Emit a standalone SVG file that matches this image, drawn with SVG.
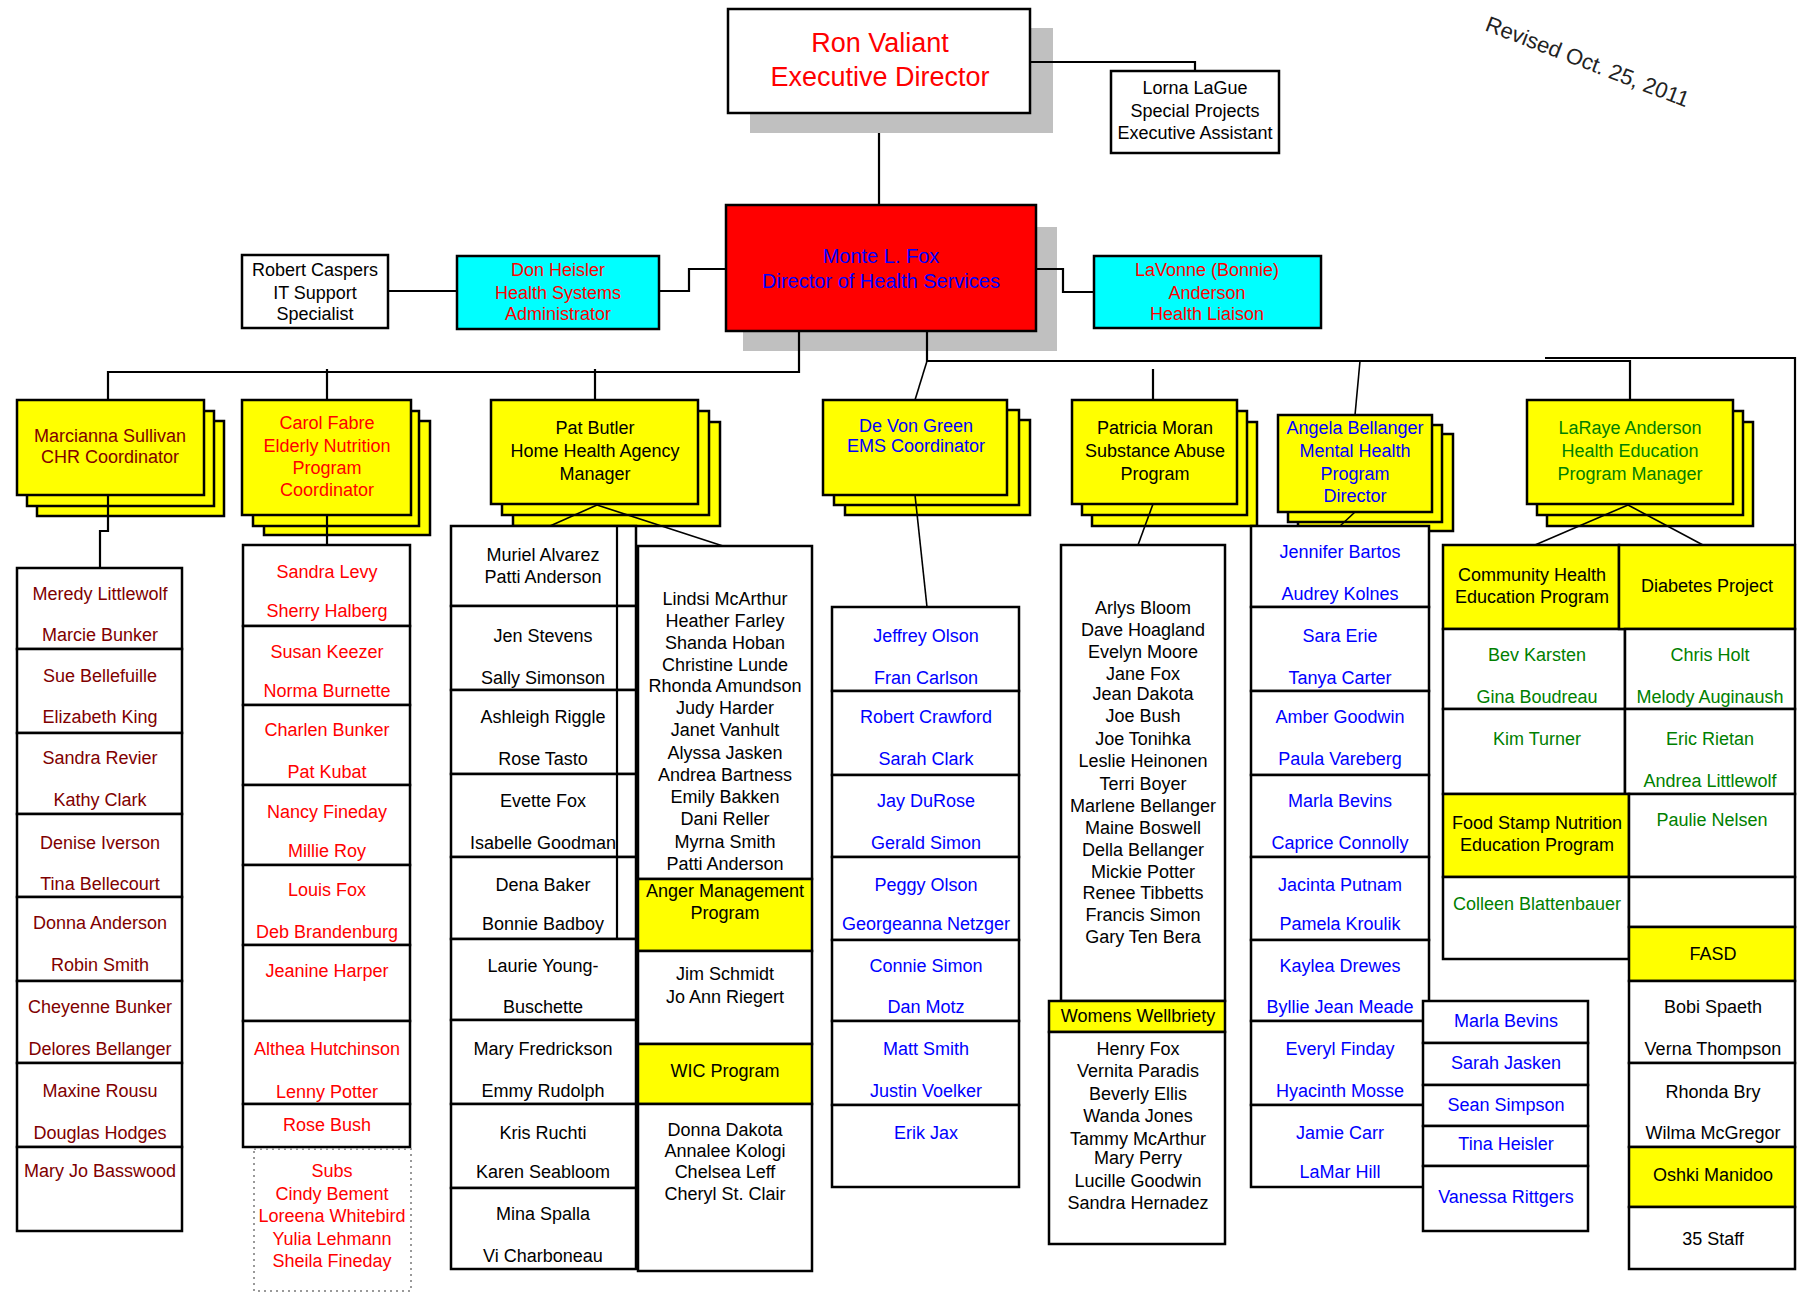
<svg xmlns="http://www.w3.org/2000/svg" width="1800" height="1296" viewBox="0 0 1800 1296">
<style>
.bx{fill:#fff;stroke:#000;stroke-width:2.5}
.yl{fill:#ff0;stroke:#000;stroke-width:2.5}
.cy{fill:#0ff;stroke:#000;stroke-width:2.5}
.rd{fill:#f00;stroke:#000;stroke-width:2.5}
.sh{fill:#c0c0c0}
.ln{fill:none;stroke:#000;stroke-width:2.2}
.sl{fill:none;stroke:#000;stroke-width:1.6}
text{font-family:"Liberation Sans",Arial,sans-serif;font-size:18px;text-anchor:middle}
.k{fill:#000}.r{fill:#f00}.b{fill:#00f}.g{fill:#008000}.m{fill:#800000}
</style>
<rect width="1800" height="1296" fill="#fff"/>

<text x="1484" y="30" transform="rotate(21 1484 30)" style="font-size:22px;text-anchor:start;fill:#222">Revised Oct. 25, 2011</text>

<g id="ron">
<rect class="sh" x="750" y="28" width="303" height="105"/>
<rect class="bx" x="728" y="9" width="302" height="104"/>
<text x="880" y="52" class="r" style="font-size:27px">Ron Valiant</text>
<text x="880" y="86" class="r" style="font-size:27px">Executive Director</text>
</g>

<g id="lorna">
<rect class="bx" x="1111" y="71" width="168" height="82"/>
<text x="1195" y="94" class="k">Lorna LaGue</text>
<text x="1195" y="117" class="k">Special Projects</text>
<text x="1195" y="139" class="k">Executive Assistant</text>
</g>

<g id="monte">
<rect class="sh" x="743" y="227" width="314" height="124"/>
<rect class="rd" x="726" y="205" width="310" height="126"/>
<text x="881" y="263" class="b" style="font-size:20px">Monte L. Fox</text>
<text x="881" y="288" class="b" style="font-size:20px">Director of Health Services</text>
</g>

<g id="robert">
<rect class="bx" x="242" y="255" width="146" height="73"/>
<text x="315" y="276" class="k">Robert Caspers</text>
<text x="315" y="299" class="k">IT Support</text>
<text x="315" y="320" class="k">Specialist</text>
</g>

<g id="don">
<rect class="cy" x="457" y="256" width="202" height="73"/>
<text x="558" y="276" class="r">Don Heisler</text>
<text x="558" y="299" class="r">Health Systems</text>
<text x="558" y="320" class="r">Administrator</text>
</g>

<g id="lavonne">
<rect class="cy" x="1094" y="256" width="227" height="72"/>
<text x="1207" y="276" class="r">LaVonne (Bonnie)</text>
<text x="1207" y="299" class="r">Anderson</text>
<text x="1207" y="320" class="r">Health Liaison</text>
</g>

<!-- Marcianna -->
<g id="marcianna">
<rect class="yl" x="37" y="421" width="187" height="95"/>
<rect class="yl" x="27" y="411" width="187" height="95"/>
<rect class="yl" x="17" y="400" width="187" height="95"/>
<text x="110" y="442" class="m">Marcianna Sullivan</text>
<text x="110" y="463" class="m">CHR Coordinator</text>
</g>
<g id="marcianna-staff">
<rect class="bx" x="17" y="568" width="165" height="81"/>
<rect class="bx" x="17" y="649" width="165" height="84"/>
<rect class="bx" x="17" y="733" width="165" height="81"/>
<rect class="bx" x="17" y="814" width="165" height="83"/>
<rect class="bx" x="17" y="897" width="165" height="84"/>
<rect class="bx" x="17" y="981" width="165" height="82"/>
<rect class="bx" x="17" y="1063" width="165" height="84"/>
<rect class="bx" x="17" y="1147" width="165" height="84"/>
<text x="100" y="600" class="m">Meredy Littlewolf</text>
<text x="100" y="641" class="m">Marcie Bunker</text>
<text x="100" y="682" class="m">Sue Bellefuille</text>
<text x="100" y="723" class="m">Elizabeth King</text>
<text x="100" y="764" class="m">Sandra Revier</text>
<text x="100" y="806" class="m">Kathy Clark</text>
<text x="100" y="849" class="m">Denise  Iverson</text>
<text x="100" y="890" class="m">Tina Bellecourt</text>
<text x="100" y="929" class="m">Donna Anderson</text>
<text x="100" y="971" class="m">Robin Smith</text>
<text x="100" y="1013" class="m">Cheyenne Bunker</text>
<text x="100" y="1055" class="m">Delores Bellanger</text>
<text x="100" y="1097" class="m">Maxine Rousu</text>
<text x="100" y="1139" class="m">Douglas Hodges</text>
<text x="100" y="1177" class="m">Mary Jo Basswood</text>
</g>

<!-- Carol -->
<g id="carol">
<rect class="yl" x="264" y="421" width="166" height="114"/>
<rect class="yl" x="253" y="411" width="166" height="115"/>
<rect class="yl" x="242" y="400" width="169" height="115"/>
<text x="327" y="429" class="r">Carol Fabre</text>
<text x="327" y="452" class="r">Elderly Nutrition</text>
<text x="327" y="474" class="r">Program</text>
<text x="327" y="496" class="r">Coordinator</text>
</g>
<g id="carol-staff">
<rect class="bx" x="243" y="545" width="167" height="81"/>
<rect class="bx" x="243" y="626" width="167" height="79"/>
<rect class="bx" x="243" y="705" width="167" height="80"/>
<rect class="bx" x="243" y="785" width="167" height="80"/>
<rect class="bx" x="243" y="865" width="167" height="80"/>
<rect class="bx" x="243" y="945" width="167" height="76"/>
<rect class="bx" x="243" y="1021" width="167" height="83"/>
<rect class="bx" x="243" y="1104" width="167" height="43"/>
<text x="327" y="578" class="r">Sandra Levy</text>
<text x="327" y="617" class="r">Sherry Halberg</text>
<text x="327" y="658" class="r">Susan Keezer</text>
<text x="327" y="697" class="r">Norma Burnette</text>
<text x="327" y="736" class="r">Charlen Bunker</text>
<text x="327" y="778" class="r">Pat Kubat</text>
<text x="327" y="818" class="r">Nancy Fineday</text>
<text x="327" y="857" class="r">Millie Roy</text>
<text x="327" y="896" class="r">Louis Fox</text>
<text x="327" y="938" class="r">Deb Brandenburg</text>
<text x="327" y="977" class="r">Jeanine Harper</text>
<text x="327" y="1055" class="r">Althea Hutchinson</text>
<text x="327" y="1098" class="r">Lenny Potter</text>
<text x="327" y="1131" class="r">Rose Bush</text>
</g>
<g id="subs">
<rect x="254" y="1149" width="157" height="142" fill="none" stroke="#999" stroke-width="2" stroke-dasharray="2,4"/>
<text x="332" y="1177" class="r">Subs</text>
<text x="332" y="1200" class="r">Cindy Bement</text>
<text x="332" y="1222" class="r">Loreena Whitebird</text>
<text x="332" y="1245" class="r">Yulia Lehmann</text>
<text x="332" y="1267" class="r">Sheila Fineday</text>
</g>

<!-- Pat Butler -->
<g id="patbutler">
<rect class="yl" x="513" y="422" width="207" height="104"/>
<rect class="yl" x="502" y="411" width="207" height="104"/>
<rect class="yl" x="491" y="400" width="207" height="104"/>
<text x="595" y="434" class="k">Pat Butler</text>
<text x="595" y="457" class="k">Home Health Agency</text>
<text x="595" y="480" class="k">Manager</text>
</g>
<g id="patbutler-staff-left">
<rect class="bx" x="451" y="526" width="185" height="80"/>
<rect class="bx" x="451" y="606" width="185" height="84"/>
<rect class="bx" x="451" y="690" width="185" height="84"/>
<rect class="bx" x="451" y="774" width="185" height="83"/>
<rect class="bx" x="451" y="857" width="185" height="82"/>
<rect class="bx" x="451" y="939" width="185" height="81"/>
<rect class="bx" x="451" y="1020" width="185" height="84"/>
<rect class="bx" x="451" y="1104" width="185" height="84"/>
<rect class="bx" x="451" y="1188" width="185" height="81"/>
<line class="ln" x1="617" y1="526" x2="617" y2="939"/>
<text x="543" y="561" class="k">Muriel Alvarez</text>
<text x="543" y="583" class="k">Patti Anderson</text>
<text x="543" y="642" class="k">Jen Stevens</text>
<text x="543" y="684" class="k">Sally Simonson</text>
<text x="543" y="723" class="k">Ashleigh Riggle</text>
<text x="543" y="765" class="k">Rose Tasto</text>
<text x="543" y="807" class="k">Evette Fox</text>
<text x="543" y="849" class="k">Isabelle Goodman</text>
<text x="543" y="891" class="k">Dena Baker</text>
<text x="543" y="930" class="k">Bonnie Badboy</text>
<text x="543" y="972" class="k">Laurie Young-</text>
<text x="543" y="1013" class="k">Buschette</text>
<text x="543" y="1055" class="k">Mary Fredrickson</text>
<text x="543" y="1097" class="k">Emmy Rudolph</text>
<text x="543" y="1139" class="k">Kris Ruchti</text>
<text x="543" y="1178" class="k">Karen Seabloom</text>
<text x="543" y="1220" class="k">Mina Spalla</text>
<text x="543" y="1262" class="k">Vi Charboneau</text>
</g>
<g id="patbutler-staff-right">
<rect class="bx" x="638" y="546" width="174" height="333"/>
<rect class="yl" x="638" y="879" width="174" height="72"/>
<rect class="bx" x="638" y="951" width="174" height="93"/>
<rect class="yl" x="638" y="1044" width="174" height="60"/>
<rect class="bx" x="638" y="1104" width="174" height="167"/>
<text x="725" y="605" class="k">Lindsi McArthur</text>
<text x="725" y="627" class="k">Heather Farley</text>
<text x="725" y="649" class="k">Shanda Hoban</text>
<text x="725" y="671" class="k">Christine Lunde</text>
<text x="725" y="692" class="k">Rhonda Amundson</text>
<text x="725" y="714" class="k">Judy Harder</text>
<text x="725" y="736" class="k">Janet Vanhult</text>
<text x="725" y="759" class="k">Alyssa Jasken</text>
<text x="725" y="781" class="k">Andrea Bartness</text>
<text x="725" y="803" class="k">Emily Bakken</text>
<text x="725" y="825" class="k">Dani Reller</text>
<text x="725" y="848" class="k">Myrna Smith</text>
<text x="725" y="870" class="k">Patti Anderson</text>
<text x="725" y="897" class="k">Anger Management</text>
<text x="725" y="919" class="k">Program</text>
<text x="725" y="980" class="k">Jim Schmidt</text>
<text x="725" y="1003" class="k">Jo Ann Riegert</text>
<text x="725" y="1077" class="k">WIC Program</text>
<text x="725" y="1136" class="k">Donna Dakota</text>
<text x="725" y="1157" class="k">Annalee Kologi</text>
<text x="725" y="1178" class="k">Chelsea Leff</text>
<text x="725" y="1200" class="k">Cheryl St. Clair</text>
</g>

<!-- De Von Green -->
<g id="devon">
<rect class="yl" x="845" y="420" width="185" height="95"/>
<rect class="yl" x="834" y="410" width="185" height="95"/>
<rect class="yl" x="823" y="400" width="184" height="95"/>
<text x="916" y="432" class="b">De Von Green</text>
<text x="916" y="452" class="b">EMS Coordinator</text>
</g>
<g id="devon-staff">
<rect class="bx" x="832" y="607" width="187" height="84"/>
<rect class="bx" x="832" y="691" width="187" height="84"/>
<rect class="bx" x="832" y="775" width="187" height="82"/>
<rect class="bx" x="832" y="857" width="187" height="83"/>
<rect class="bx" x="832" y="940" width="187" height="81"/>
<rect class="bx" x="832" y="1021" width="187" height="84"/>
<rect class="bx" x="832" y="1105" width="187" height="82"/>
<text x="926" y="642" class="b">Jeffrey Olson</text>
<text x="926" y="684" class="b">Fran Carlson</text>
<text x="926" y="723" class="b">Robert Crawford</text>
<text x="926" y="765" class="b">Sarah Clark</text>
<text x="926" y="807" class="b">Jay DuRose</text>
<text x="926" y="849" class="b">Gerald Simon</text>
<text x="926" y="891" class="b">Peggy Olson</text>
<text x="926" y="930" class="b">Georgeanna Netzger</text>
<text x="926" y="972" class="b">Connie Simon</text>
<text x="926" y="1013" class="b">Dan Motz</text>
<text x="926" y="1055" class="b">Matt Smith</text>
<text x="926" y="1097" class="b">Justin Voelker</text>
<text x="926" y="1139" class="b">Erik Jax</text>
</g>

<!-- Patricia Moran -->
<g id="patricia">
<rect class="yl" x="1092" y="422" width="165" height="104"/>
<rect class="yl" x="1082" y="411" width="165" height="104"/>
<rect class="yl" x="1072" y="400" width="165" height="104"/>
<text x="1155" y="434" class="k">Patricia Moran</text>
<text x="1155" y="457" class="k">Substance Abuse</text>
<text x="1155" y="480" class="k">Program</text>
</g>
<g id="patricia-staff">
<rect class="bx" x="1061" y="545" width="164" height="456"/>
<text x="1143" y="614" class="k">Arlys Bloom</text>
<text x="1143" y="636" class="k">Dave Hoagland</text>
<text x="1143" y="658" class="k">Evelyn Moore</text>
<text x="1143" y="680" class="k">Jane Fox</text>
<text x="1143" y="700" class="k">Jean Dakota</text>
<text x="1143" y="722" class="k">Joe Bush</text>
<text x="1143" y="745" class="k">Joe Tonihka</text>
<text x="1143" y="767" class="k">Leslie Heinonen</text>
<text x="1143" y="790" class="k">Terri Boyer</text>
<text x="1143" y="812" class="k">Marlene Bellanger</text>
<text x="1143" y="834" class="k">Maine Boswell</text>
<text x="1143" y="856" class="k">Della Bellanger</text>
<text x="1143" y="878" class="k">Mickie Potter</text>
<text x="1143" y="899" class="k">Renee Tibbetts</text>
<text x="1143" y="921" class="k">Francis Simon</text>
<text x="1143" y="943" class="k">Gary Ten Bera</text>
</g>
<g id="womens-wellbriety">
<rect class="yl" x="1049" y="1001" width="176" height="31"/>
<rect class="bx" x="1049" y="1032" width="176" height="212"/>
<text x="1138" y="1022" class="k">Womens Wellbriety</text>
<text x="1138" y="1055" class="k">Henry Fox</text>
<text x="1138" y="1077" class="k">Vernita Paradis</text>
<text x="1138" y="1100" class="k">Beverly Ellis</text>
<text x="1138" y="1122" class="k">Wanda Jones</text>
<text x="1138" y="1145" class="k">Tammy McArthur</text>
<text x="1138" y="1164" class="k">Mary Perry</text>
<text x="1138" y="1187" class="k">Lucille Goodwin</text>
<text x="1138" y="1209" class="k">Sandra Hernadez</text>
</g>

<!-- Angela -->
<g id="angela">
<rect class="yl" x="1298" y="434" width="155" height="97"/>
<rect class="yl" x="1288" y="425" width="154" height="97"/>
<rect class="yl" x="1278" y="415" width="154" height="97"/>
<text x="1355" y="434" class="b">Angela Bellanger</text>
<text x="1355" y="457" class="b">Mental Health</text>
<text x="1355" y="480" class="b">Program</text>
<text x="1355" y="502" class="b">Director</text>
</g>
<g id="angela-staff">
<rect class="bx" x="1251" y="526" width="178" height="81"/>
<rect class="bx" x="1251" y="607" width="178" height="84"/>
<rect class="bx" x="1251" y="691" width="178" height="84"/>
<rect class="bx" x="1251" y="775" width="178" height="82"/>
<rect class="bx" x="1251" y="857" width="178" height="83"/>
<rect class="bx" x="1251" y="940" width="178" height="81"/>
<rect class="bx" x="1251" y="1021" width="178" height="84"/>
<rect class="bx" x="1251" y="1105" width="178" height="82"/>
<text x="1340" y="558" class="b">Jennifer Bartos</text>
<text x="1340" y="600" class="b">Audrey Kolnes</text>
<text x="1340" y="642" class="b">Sara Erie</text>
<text x="1340" y="684" class="b">Tanya Carter</text>
<text x="1340" y="723" class="b">Amber Goodwin</text>
<text x="1340" y="765" class="b">Paula Vareberg</text>
<text x="1340" y="807" class="b">Marla Bevins</text>
<text x="1340" y="849" class="b">Caprice Connolly</text>
<text x="1340" y="891" class="b">Jacinta Putnam</text>
<text x="1340" y="930" class="b">Pamela Kroulik</text>
<text x="1340" y="972" class="b">Kaylea Drewes</text>
<text x="1340" y="1013" class="b">Byllie Jean Meade</text>
<text x="1340" y="1055" class="b">Everyl Finday</text>
<text x="1340" y="1097" class="b">Hyacinth Mosse</text>
<text x="1340" y="1139" class="b">Jamie Carr</text>
<text x="1340" y="1178" class="b">LaMar Hill</text>
</g>
<g id="angela-sub">
<rect class="bx" x="1423" y="1001" width="165" height="42"/>
<rect class="bx" x="1423" y="1043" width="165" height="42"/>
<rect class="bx" x="1423" y="1085" width="165" height="41"/>
<rect class="bx" x="1423" y="1126" width="165" height="40"/>
<rect class="bx" x="1423" y="1166" width="165" height="65"/>
<text x="1506" y="1027" class="b">Marla Bevins</text>
<text x="1506" y="1069" class="b">Sarah Jasken</text>
<text x="1506" y="1111" class="b">Sean Simpson</text>
<text x="1506" y="1150" class="b">Tina Heisler</text>
<text x="1506" y="1203" class="b">Vanessa Rittgers</text>
</g>

<!-- LaRaye -->
<g id="laraye">
<rect class="yl" x="1547" y="422" width="206" height="104"/>
<rect class="yl" x="1537" y="411" width="206" height="104"/>
<rect class="yl" x="1527" y="400" width="206" height="104"/>
<text x="1630" y="434" class="g">LaRaye Anderson</text>
<text x="1630" y="457" class="g">Health Education</text>
<text x="1630" y="480" class="g">Program Manager</text>
</g>
<g id="community-health">
<rect class="yl" x="1443" y="545" width="176" height="84"/>
<text x="1532" y="581" class="k">Community Health</text>
<text x="1532" y="603" class="k">Education Program</text>
<rect class="bx" x="1443" y="629" width="182" height="80"/>
<rect class="bx" x="1443" y="709" width="182" height="85"/>
<text x="1537" y="661" class="g">Bev Karsten</text>
<text x="1537" y="703" class="g">Gina Boudreau</text>
<text x="1537" y="745" class="g">Kim Turner</text>
</g>
<g id="diabetes">
<rect class="yl" x="1619" y="545" width="176" height="84"/>
<text x="1707" y="592" class="k">Diabetes Project</text>
<rect class="bx" x="1625" y="629" width="170" height="80"/>
<rect class="bx" x="1625" y="709" width="170" height="85"/>
<text x="1710" y="661" class="g">Chris Holt</text>
<text x="1710" y="703" class="g">Melody Auginaush</text>
<text x="1710" y="745" class="g">Eric Rietan</text>
<text x="1710" y="787" class="g">Andrea Littlewolf</text>
</g>
<g id="food-stamp">
<rect class="yl" x="1443" y="794" width="186" height="83"/>
<text x="1537" y="829" class="k">Food Stamp Nutrition</text>
<text x="1537" y="851" class="k">Education Program</text>
<rect class="bx" x="1443" y="877" width="186" height="82"/>
<text x="1537" y="910" class="g">Colleen Blattenbauer</text>
</g>
<g id="paulie">
<rect class="bx" x="1629" y="794" width="166" height="83"/>
<text x="1712" y="826" class="g">Paulie Nelsen</text>
<rect class="bx" x="1629" y="877" width="166" height="50"/>
</g>
<g id="fasd">
<rect class="yl" x="1629" y="927" width="166" height="54"/>
<text x="1713" y="960" class="k">FASD</text>
<rect class="bx" x="1629" y="981" width="166" height="82"/>
<rect class="bx" x="1629" y="1063" width="166" height="84"/>
<text x="1713" y="1013" class="k">Bobi Spaeth</text>
<text x="1713" y="1055" class="k">Verna Thompson</text>
<text x="1713" y="1098" class="k">Rhonda Bry</text>
<text x="1713" y="1139" class="k">Wilma McGregor</text>
</g>
<g id="oshki">
<rect class="yl" x="1629" y="1147" width="166" height="60"/>
<text x="1713" y="1181" class="k">Oshki Manidoo</text>
<rect class="bx" x="1629" y="1207" width="166" height="62"/>
<text x="1713" y="1245" class="k">35 Staff</text>
</g>

<g id="connectors">
<path class="ln" d="M879 133 V205"/>
<path class="ln" d="M1030 62 H1195 V71"/>
<path class="ln" d="M388 291 H457"/>
<path class="ln" d="M659 291 H689 V269 H726"/>
<path class="ln" d="M1036 269 H1063 V292 H1094"/>
<path class="ln" d="M799 331 V372 H108 V400"/>
<path class="ln" d="M327 369 V400"/>
<path class="ln" d="M595 369 V400"/>
<path class="ln" d="M927 331 V361 H1630 V400"/>
<path class="ln" d="M1545 358 H1795 V545"/>
<path class="ln" d="M1153 369 V400"/>
<path class="sl" d="M927 361 L915 400"/>
<path class="sl" d="M1360 361 L1355 415"/>
<path class="ln" d="M108 495 V531 H100 V568"/>
<path class="ln" d="M327 515 V545"/>
<path class="sl" d="M597 505 L550 526"/>
<path class="sl" d="M597 505 L723 546"/>
<path class="sl" d="M915 495 L927 607"/>
<path class="sl" d="M1153 504 L1138 545"/>
<path class="sl" d="M1355 512 L1340 526"/>
<path class="sl" d="M1628 505 L1535 545"/>
<path class="sl" d="M1628 505 L1703 545"/>
</g>
</svg>
